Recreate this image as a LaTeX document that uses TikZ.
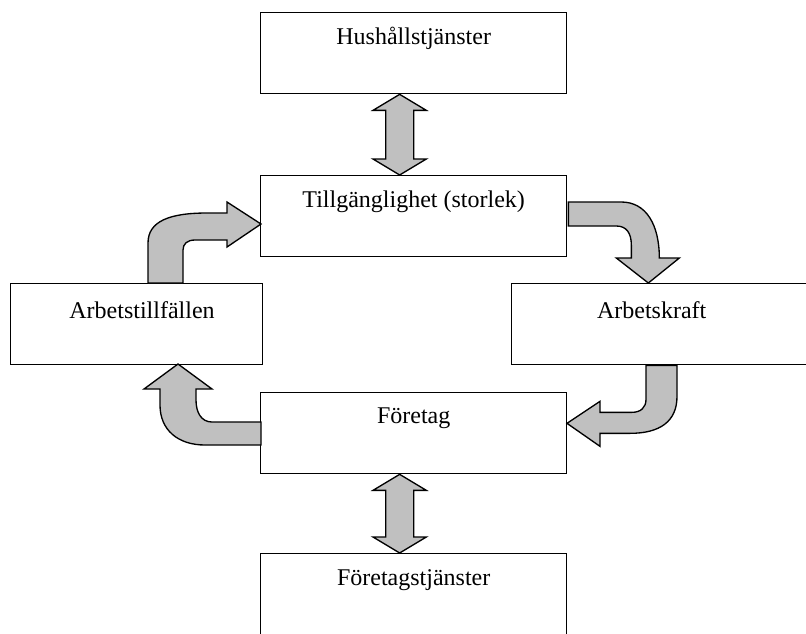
\documentclass[tikz,border=0pt]{standalone}
\usepackage{fontspec}
\setmainfont{Liberation Serif}
\usetikzlibrary{calc}
\definecolor{arrowgray}{RGB}{192,192,192}
\tikzset{
  box/.style={draw, line width=1pt, anchor=north west, inner sep=0pt,
    minimum height=60.75pt},
  boxtext/.style={anchor=center, yshift=-20pt, font=\fontsize{18}{22}\selectfont},
  blockarrow/.style={draw, fill=arrowgray, line width=1pt, line join=miter}
}
% straight double arrow between two points (top, bottom)
\newcommand{\dblArrow}[2]{%
  \filldraw[blockarrow] let \p1=(#1), \p2=(#2) in
    (\x1,\y1) -- (\x1+20pt,\y1-12pt) -- (\x1+10.5pt,\y1-12pt)
    -- (\x1+10.5pt,\y2+12pt) -- (\x1+20pt,\y2+12pt) -- (\x2,\y2)
    -- (\x1-20pt,\y2+12pt) -- (\x1-10.5pt,\y2+12pt)
    -- (\x1-10.5pt,\y1-12pt) -- (\x1-20pt,\y1-12pt) -- cycle;}

\begin{document}
\begin{tikzpicture}[x=0.75pt, y=-0.75pt]
\useasboundingbox (0,0) rectangle (806,633);

% boxes
\node[box, minimum width=229.5pt, label={[boxtext]north:Hushållstjänster}] (hush) at (260,12) {};
\node[box, minimum width=229.5pt, label={[boxtext]north:Tillgänglighet (storlek)}] (tillg) at (260,175) {};
\node[box, minimum width=189pt, label={[boxtext, xshift=4pt]north:Arbetstillfällen}] (arbtf) at (10,283) {};
\node[box, minimum width=232pt, label={[boxtext, xshift=-11pt]north:Arbetskraft}] (arbk) at (511,283) {};
\node[box, minimum width=229.5pt, label={[boxtext]north:Företag}] (foretag) at (260,392) {};
\node[box, minimum width=229.5pt, minimum height=70pt, label={[boxtext]north:Företagstjänster}] (ftj) at (260,553) {};

% double arrows
\dblArrow{[xshift=-10.5pt]hush.south}{[xshift=-10.5pt]tillg.north}
\dblArrow{[xshift=-10.5pt]foretag.south}{[xshift=-10.5pt]ftj.north}

% Arbetstillfallen -> Tillganglighet
\begin{scope}[shift={(arbtf.north west)}]
\filldraw[blockarrow] (138,0) -- (138,-40) .. controls (138,-62) and (160,-70) .. (197,-70)
  -- (217,-70) -- (217,-81) -- (251,-59) -- (217,-36) -- (217,-43) -- (185,-43)
  .. controls (177,-43) and (173,-39) .. (173,-33) -- (173,0) -- cycle;
\end{scope}
% Tillganglighet -> Arbetskraft
\begin{scope}[shift={(tillg.north east)}]
\filldraw[blockarrow] (1,27) -- (54,27) .. controls (79,27) and (92,50) .. (92,83)
  -- (112,83) -- (81,108) -- (49,83) -- (64,83) -- (64,70)
  .. controls (64,58) and (59,51) .. (49,51) -- (1,51) -- cycle;
\end{scope}
% Arbetskraft -> Foretag
\begin{scope}[shift={(arbk.south west)}]
\filldraw[blockarrow] (135,0) -- (135,34) .. controls (135,42) and (130,47) .. (121,47)
  -- (89,47) -- (89,36) -- (56,58) -- (89,81) -- (89,68) -- (119,68)
  .. controls (149,68) and (166,56) .. (166,31) -- (166,0) -- cycle;
\end{scope}
% Foretag -> Arbetstillfallen
\begin{scope}[shift={(foretag.north west)}]
\filldraw[blockarrow] (1,30) -- (-48,30) .. controls (-59,30) and (-64,20) .. (-64,8)
  -- (-64,-3) -- (-48,-3) -- (-82,-28) -- (-116,-3) -- (-100,-3) -- (-100,13)
  .. controls (-100,38) and (-82,53) .. (-55,53) -- (1,53) -- cycle;
\end{scope}
\end{tikzpicture}
\end{document}
